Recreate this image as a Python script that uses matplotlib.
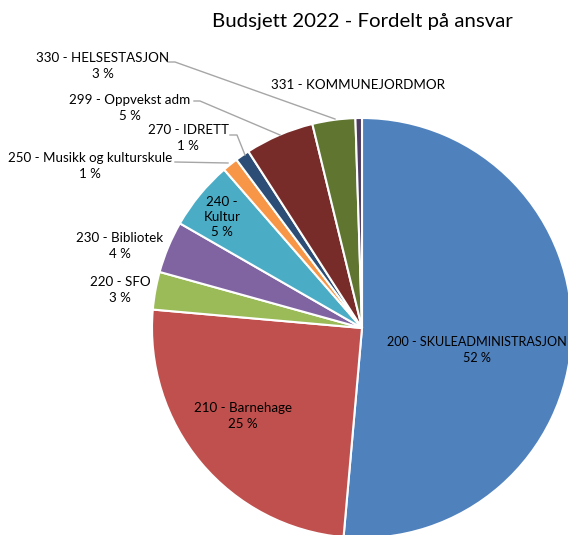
import matplotlib
matplotlib.use("Agg")
import matplotlib.pyplot as plt

# ---- data ----
codes = ["200 - SKULEADMINISTRASJON", "210 - Barnehage", "220 - SFO", "230 - Bibliotek",
         "240 -\nKultur", "250 - Musikk og kulturskule", "270 - IDRETT", "299 - Oppvekst adm",
         "330 - HELSESTASJON", "331 - KOMMUNEJORDMOR"]
shares = [51.4, 25.0, 2.9, 4.0, 5.3, 1.2, 1.1, 5.3, 3.3, 0.5]
pct_labels = ["52 %", "25 %", "3 %", "4 %", "5 %", "1 %", "1 %", "5 %", "3 %", ""]
colors = ["#4F81BD", "#C0504D", "#9BBB59", "#8064A2", "#4BACC6", "#F79646",
          "#2C4D75", "#772C2A", "#5F7530", "#4D3B62"]
title = "Budsjett 2022 - Fordelt på ansvar"

W, H = 568, 535
fig = plt.figure(figsize=(W / 100, H / 100), dpi=100)
ax = fig.add_axes([0, 0, 1, 1])

cx, cy, R = 362, H - 328, 210
ax.pie(shares, colors=colors, startangle=90, counterclock=False,
       center=(cx, cy), radius=R, frame=True,
       wedgeprops=dict(edgecolor="white", linewidth=1.5))
ax.set_xlim(0, W)
ax.set_ylim(0, H)
ax.set_aspect("equal")
ax.axis("off")

font = ["Lato", "DejaVu Sans"]
fs = 9.6

# label placement (pixel coords from top-left)
pos = [(477, 350), (243, 416), (120, 290), (120, 246), (222, 217), (90, 166),
       (188, 138), (130, 108), (103, 66), (358, 85)]
sizes = [9.1] + [fs] * 9
for name, p, (x, y), s in zip(codes, pct_labels, pos, sizes):
    txt = name if p == "" else f"{name}\n{p}"
    ax.text(x, H - y, txt, ha="center", va="center", fontsize=s, family=font,
            color="#000000", linespacing=1.3)

# leader lines
lines = [
    [(168, 62), (175, 62), (335, 119)],
    [(194, 101), (200, 101), (280, 135)],
    [(230, 135), (237, 135), (245, 155)],
    [(175, 162), (228, 163)],
]
for pts in lines:
    xs = [p[0] for p in pts]
    ys = [H - p[1] for p in pts]
    ax.plot(xs, ys, color="#A6A6A6", linewidth=1.0)

fig.text(362 / W, 1 - 22 / H, title, ha="center", va="center", fontsize=14.7,
         family=font, color="#000000")

fig.savefig("out.png", dpi=100)
